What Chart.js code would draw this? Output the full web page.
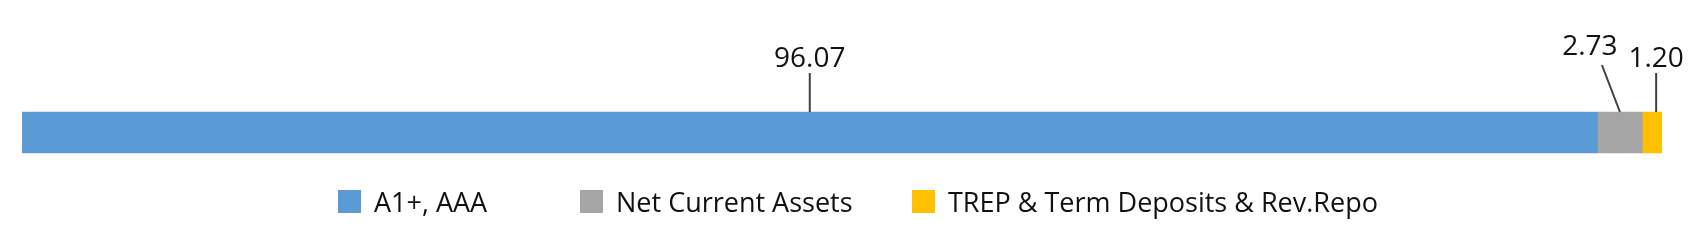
<!DOCTYPE html>
<html>
<head>
<meta charset="utf-8">
<script src="https://cdn.jsdelivr.net/npm/chart.js@4.4.1/dist/chart.umd.min.js"></script>
<style>
  html, body { margin: 0; padding: 0; background: #fff; }
  #wrap { width: 1696px; height: 248px; position: relative; }
</style>
</head>
<body>
<div id="wrap"><canvas id="ratingChart"></canvas></div>
<script>
// Data
const categories = ['Portfolio'];
const seriesNames = ['A1+, AAA', 'Net Current Assets', 'TREP & Term Deposits & Rev.Repo'];
const seriesValues = [96.07, 2.73, 1.20];
const valueLabels = ['96.07', '2.73', '1.20'];

// Styles
const colors = ['#5B9BD5', '#A5A5A5', '#FFC000'];
const fontFamily = '"Open Sans", "Noto Sans", sans-serif';
const textColor = '#111111';

// label placement per series: text dx from bar centre, baseline y, line start
const labelStyle = [
    { textDx: 0, textY: 67, lineDx: 0, lineY: 73, lineEndDx: 0 },
    { textDx: -30, textY: 55, lineDx: -18, lineY: 65, lineEndDx: 0 },
    { textDx: 4, textY: 67, lineDx: 4, lineY: 73, lineEndDx: 4 }
];

// legend item left edges and box size
const legendX = [338, 580, 912];
const legendY = 190;
const legendBox = 23;

// Draw value labels with leader lines
const leaderLabels = {
    id: 'leaderLabels',
    afterDatasetsDraw(chart) {
        const ctx = chart.ctx;
        ctx.save();
        chart.data.datasets.forEach(function(ds, i) {
            const bar = chart.getDatasetMeta(i).data[0];
            const cx = (bar.x + bar.base) / 2;
            const top = bar.y - bar.height / 2;
            const st = labelStyle[i];
            ctx.strokeStyle = '#404040';
            ctx.lineWidth = 2;
            ctx.beginPath();
            ctx.moveTo(cx + st.lineDx, st.lineY);
            ctx.lineTo(cx + st.lineEndDx, top);
            ctx.stroke();
            ctx.fillStyle = textColor;
            ctx.font = '28px ' + fontFamily;
            ctx.textAlign = 'center';
            ctx.textBaseline = 'alphabetic';
            ctx.fillText(valueLabels[i], cx + st.textDx, st.textY);
        });
        ctx.restore();
    }
};

// Legend drawn in one row below the bar
const rowLegend = {
    id: 'rowLegend',
    afterDraw(chart) {
        const ctx = chart.ctx;
        ctx.save();
        chart.data.datasets.forEach(function(ds, i) {
            const x = legendX[i];
            ctx.fillStyle = ds.backgroundColor;
            ctx.fillRect(x, legendY, legendBox, legendBox);
            ctx.fillStyle = textColor;
            ctx.font = '27px ' + fontFamily;
            ctx.textAlign = 'left';
            ctx.textBaseline = 'alphabetic';
            ctx.fillText(ds.label, x + legendBox + 13, legendY + 22);
        });
        ctx.restore();
    }
};

const datasets = seriesNames.map(function(name, i) {
    return {
        label: name,
        data: [seriesValues[i]],
        backgroundColor: colors[i],
        borderWidth: 0,
        barThickness: 41
    };
});

const ctx = document.getElementById('ratingChart').getContext('2d');
const chart = new Chart(ctx, {
    type: 'bar',
    data: { labels: categories, datasets: datasets },
    options: {
        indexAxis: 'y',
        responsive: true,
        maintainAspectRatio: false,
        animation: false,
        layout: { padding: { left: 22, right: 34, top: 100, bottom: 83 } },
        scales: {
            x: { stacked: true, display: false, min: 0, max: 100 },
            y: { stacked: true, display: false }
        },
        plugins: {
            tooltip: { enabled: false },
            legend: { display: false }
        }
    },
    plugins: [leaderLabels, rowLegend]
});
</script>
</body>
</html>
